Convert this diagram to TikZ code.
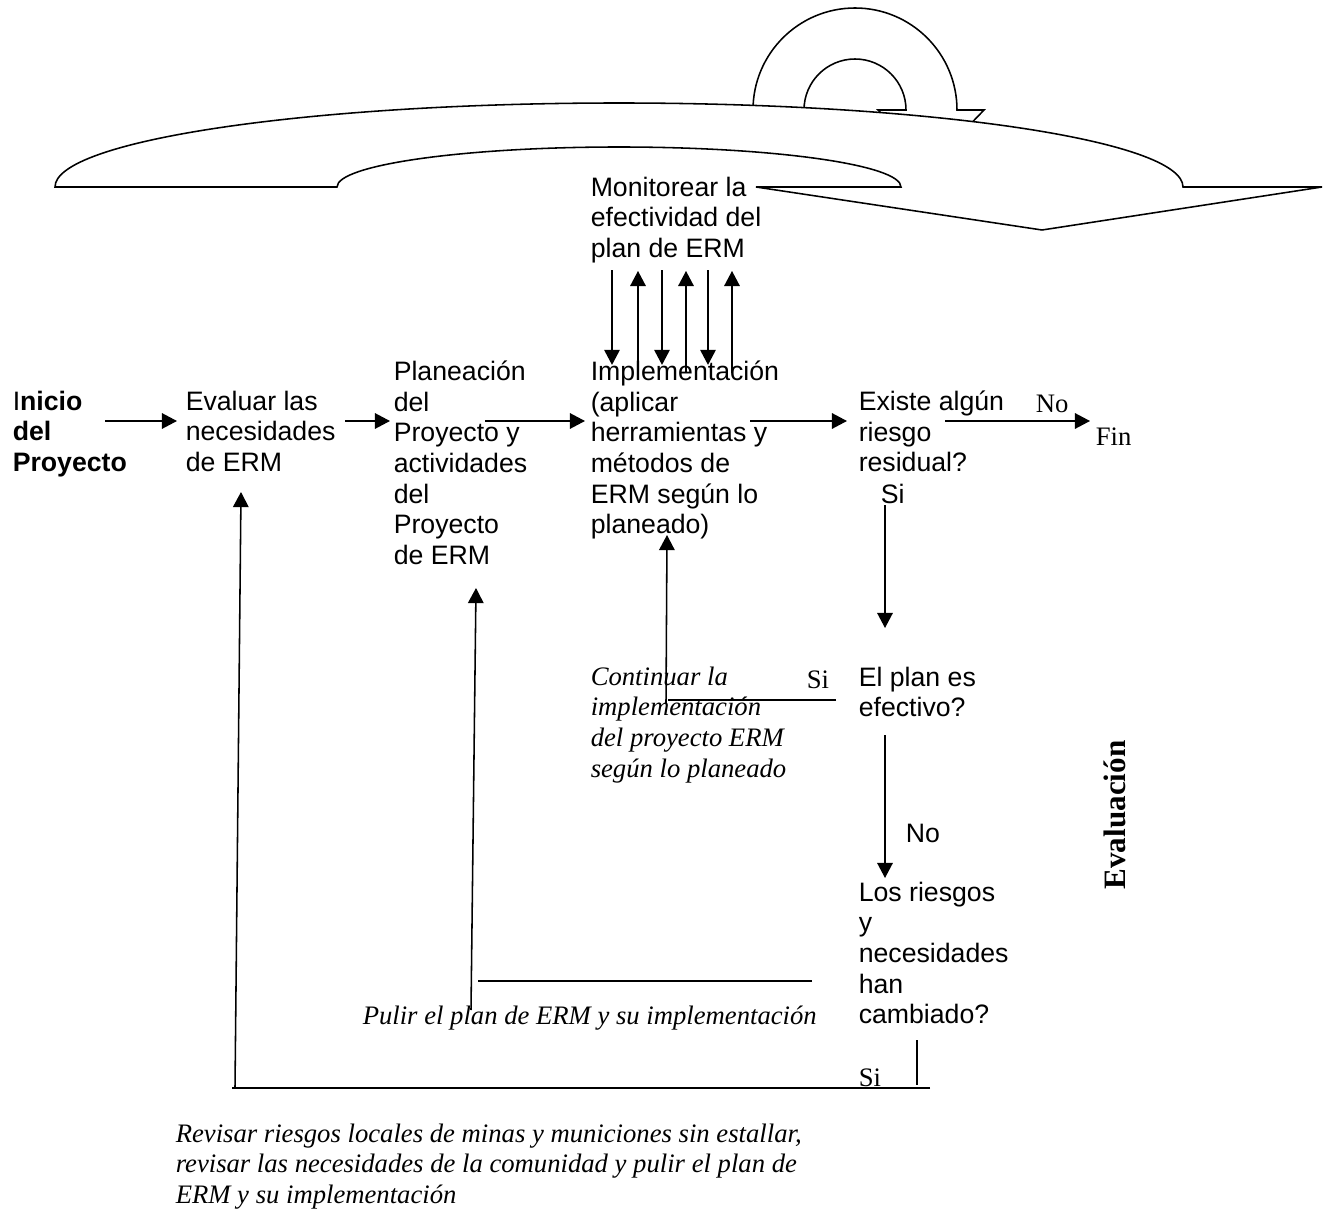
\documentclass[tikz,border=0pt]{standalone}
\usepackage{fontspec}
\setmainfont{Liberation Sans}
\newfontfamily\tnr{Liberation Serif}
\usetikzlibrary{arrows.meta}
\tikzset{
  txt/.style={
    anchor=north west,
    inner sep=0pt,
    align=left,
    font=\fontsize{12}{13.8}\selectfont,
    execute at begin node=\strut
  },
  lbl/.style={
    txt,
    font=\tnr\fontsize{12}{13.8}\selectfont
  },
  note/.style={
    txt,
    font=\tnr\itshape\fontsize{12}{13.8}\selectfont
  },
  line/.style={-{Triangle[length=6.8pt,width=7pt]}},
  bigarrow/.style={draw,fill=white,line join=miter}
}

\begin{document}
\begin{tikzpicture}[x=0.45pt,y=-0.45pt,line width=0.7pt]
\useasboundingbox (0,0) rectangle (1325,1216);

% curved arrows on top
\draw[bigarrow] (753,140) -- (753,110) arc[start angle=180,end angle=360,radius=102]
  -- (984,110) -- (931,165) -- (878,110) -- (906,110)
  arc[start angle=0,end angle=-180,radius=51] -- (804,140) -- cycle;
\draw[bigarrow] (55,187) arc[start angle=180,end angle=360,x radius=564,y radius=84]
  -- (1322,187) -- (1042,230) -- (756,187) -- (901,187)
  arc[start angle=0,end angle=-180,x radius=282,y radius=40] -- cycle;

% steps
\node[txt] (monitor) at (590,176) {Monitorear la\\efectividad del\\plan de ERM};
\node[txt] (inicio) at (12,390) {I\textbf{nicio}\\\textbf{del}\\\textbf{Proyecto}};
\node[txt] (evaluar) at (185,390) {Evaluar las\\necesidades\\de ERM};
\node[txt] (planea) at (393,360) {Planeación\\del\\Proyecto y\\actividades\\del\\Proyecto\\de ERM};
\node[txt] (impl) at (590,360) {Implementación\\(aplicar\\herramientas y\\métodos de\\ERM según lo\\planeado)};
\node[txt] (existe) at (858,390) {Existe algún\\riesgo\\residual?};
\node[txt] (si_res) at (880,481) {Si};
\node[lbl] (no_res) at (1035,390) {No};
\node[lbl] (fin) at (1095,423) {Fin};
\node[txt] (efectivo) at (858,666) {El plan es\\efectivo?};
\node[lbl] (si_ef) at (806,666) {Si};
\node[note] (continuar) at (590,666) {Continuar la\\implementación\\del proyecto ERM\\según lo planeado};
\node[txt] (no_ef) at (905,820) {No};
\node[txt] (cambio) at (858,881) {Los riesgos\\y\\necesidades\\han\\cambiado?};
\node[note] (pulir) at (362,1002) {Pulir el plan de ERM y su implementación};
\node[lbl] (si_cam) at (858,1064) {Si};
\node[note] (revisar) at (175,1123) {Revisar riesgos locales de minas y municiones sin estallar,\\revisar las necesidades de la comunidad y pulir el plan de\\ERM y su implementación};
\node[rotate=90,inner sep=0pt,font=\tnr\bfseries\fontsize{14}{16}\selectfont] (evaluacion) at (1115,815) {Evaluación};

% ends of the connectors
\coordinate (inicio_out) at (105,421);   \coordinate (evaluar_in) at (177,421);
\coordinate (evaluar_out) at (345,421);  \coordinate (planea_in) at (390,421);
\coordinate (planea_out) at (485,421);   \coordinate (impl_in) at (585,421);
\coordinate (impl_out) at (750,421);     \coordinate (existe_in) at (847,421);
\coordinate (existe_out) at (945,421);   \coordinate (fin_in) at (1090,421);
\coordinate (si_top) at (885,505);       \coordinate (efectivo_in) at (885,628);
\coordinate (efectivo_out) at (885,735); \coordinate (cambio_in) at (885,878);
\coordinate (cont_a) at (836,700);       \coordinate (cont_b) at (668,700);
\coordinate (cont_c) at (666,703);       \coordinate (impl_back) at (667,535);
\coordinate (pulir_a) at (812,981);      \coordinate (pulir_b) at (478,981);
\coordinate (pulir_c) at (471,1010);     \coordinate (planea_back) at (476,588);
\coordinate (rev_a) at (917,1040);       \coordinate (rev_b) at (917,1085);
\coordinate (rev_c) at (930,1088);       \coordinate (rev_d) at (232,1088);
\coordinate (rev_e) at (235,1088);       \coordinate (evaluar_back) at (241,492);

% main row
\draw[line] (inicio_out) -- (evaluar_in);
\draw[line] (evaluar_out) -- (planea_in);
\draw[line] (planea_out) -- (impl_in);
\draw[line] (impl_out) -- (existe_in);
\draw[line] (existe_out) -- (fin_in);

% monitoring loop
\foreach \x in {612,662,708}
  \draw[line,shorten <=1.2pt,shorten >=-2.2pt] (\x,0 |- monitor.south) -- (\x,0 |- impl.north);
\foreach \x in {638,686,732}
  \draw[line,shorten <=-5.9pt,shorten >=1.6pt] (\x,0 |- impl.north) -- (\x,0 |- monitor.south);

% evaluation
\draw[line] (si_top) -- (efectivo_in);
\draw[line] (efectivo_out) -- (cambio_in);
\draw (cont_a) -- (cont_b);
\draw[line] (cont_c) -- (impl_back);
\draw (pulir_a) -- (pulir_b);
\draw[line] (pulir_c) -- (planea_back);
\draw (rev_a) -- (rev_b);
\draw (rev_c) -- (rev_d);
\draw[line] (rev_e) -- (evaluar_back);

\end{tikzpicture}
\end{document}
